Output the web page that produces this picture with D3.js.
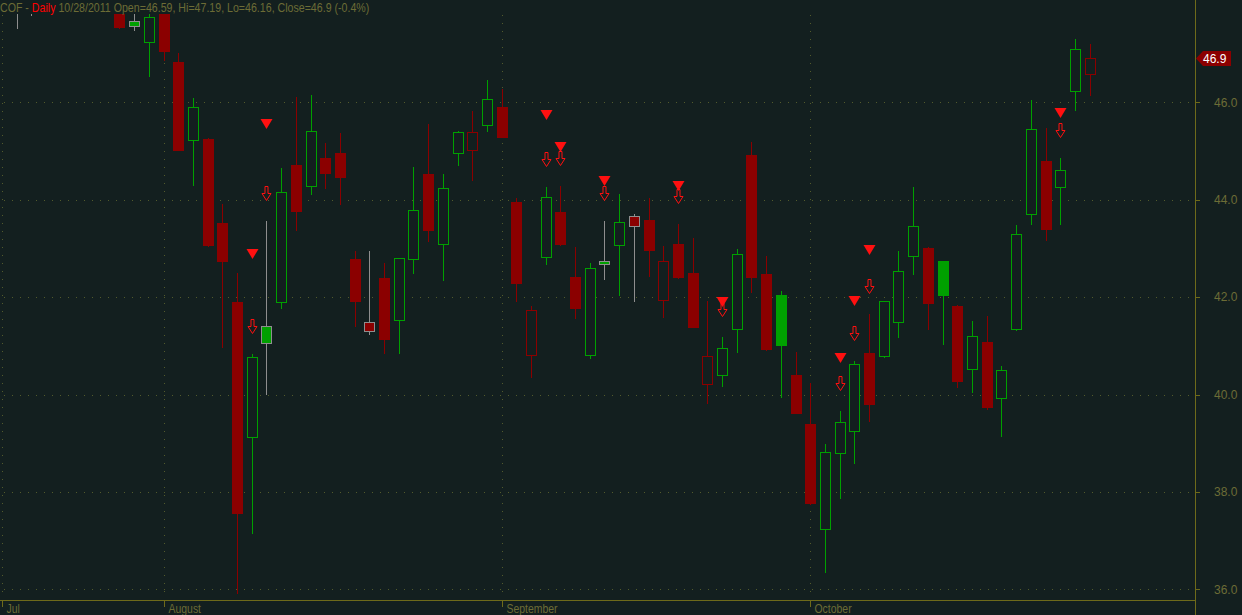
<!DOCTYPE html>
<html><head><meta charset="utf-8">
<script src="https://cdn.jsdelivr.net/npm/d3@7"></script>
<style>html,body{margin:0;padding:0;background:#131f1f;overflow:hidden}</style>
</head><body><svg id="chart" width="1242" height="615"></svg>
<script>
const symbol = "COF";
const period = "Daily";
const dates = [
"2011-07-15","2011-07-18","2011-07-19","2011-07-20","2011-07-21","2011-07-22","2011-07-25","2011-07-26","2011-07-27","2011-07-28","2011-07-29",
"2011-08-01","2011-08-02","2011-08-03","2011-08-04","2011-08-05","2011-08-08","2011-08-09","2011-08-10","2011-08-11","2011-08-12",
"2011-08-15","2011-08-16","2011-08-17","2011-08-18","2011-08-19","2011-08-22","2011-08-23","2011-08-24","2011-08-25","2011-08-26",
"2011-08-29","2011-08-30","2011-08-31","2011-09-01","2011-09-02","2011-09-06","2011-09-07","2011-09-08","2011-09-09",
"2011-09-12","2011-09-13","2011-09-14","2011-09-15","2011-09-16","2011-09-19","2011-09-20","2011-09-21","2011-09-22","2011-09-23",
"2011-09-26","2011-09-27","2011-09-28","2011-09-29","2011-09-30","2011-10-03","2011-10-04","2011-10-05","2011-10-06","2011-10-07",
"2011-10-10","2011-10-11","2011-10-12","2011-10-13","2011-10-14","2011-10-17","2011-10-18","2011-10-19","2011-10-20","2011-10-21",
"2011-10-24","2011-10-25","2011-10-26","2011-10-27","2011-10-28"];
const open = [
48.90,48.70,48.80,49.00,49.40,49.80,48.90,48.60,48.15,47.66,47.23,
48.10,46.83,45.22,45.25,43.52,41.90,39.12,41.40,41.89,44.71,
44.29,44.86,44.96,42.78,41.48,42.40,41.52,42.78,44.53,43.10,
44.95,45.03,45.53,45.90,43.95,40.82,42.83,43.75,42.41,
40.82,42.74,43.06,43.66,43.58,41.95,43.09,42.49,40.21,40.41,
41.35,44.92,42.47,42.04,40.40,39.39,37.23,38.79,39.26,40.85,
40.80,41.48,42.84,43.01,42.74,41.82,40.53,41.08,39.93,41.34,
43.70,44.79,44.27,46.24,46.59];
const high = [
49.40,49.20,49.50,49.60,50.40,50.10,49.30,48.90,48.40,48.10,47.95,
48.30,47.01,46.08,45.26,43.91,42.49,40.83,43.56,44.65,46.11,
46.15,45.16,45.37,42.95,42.95,42.70,42.80,44.67,45.55,44.53,
45.41,45.82,46.46,46.27,44.04,41.82,44.26,44.28,43.03,
42.70,43.56,44.12,43.71,44.03,43.05,43.50,43.21,41.92,41.18,
42.99,45.18,42.84,42.13,40.87,40.23,38.98,39.66,40.69,41.65,
41.92,42.95,44.26,43.02,42.75,41.84,41.51,41.61,40.59,43.48,
46.05,45.48,44.86,47.30,47.19];
const low = [
48.30,47.52,47.80,48.60,49.10,48.90,48.40,48.00,47.52,47.49,46.55,
46.87,45.02,44.31,43.05,40.98,35.92,37.16,40.02,41.78,43.38,
44.12,44.23,43.92,41.41,41.25,40.85,40.86,42.50,43.16,42.36,
44.72,44.41,45.42,45.28,41.93,40.35,42.67,43.06,41.58,
40.74,42.37,42.05,41.91,42.44,41.60,42.40,41.38,39.83,40.18,
40.88,42.10,40.92,39.95,39.61,37.76,36.36,37.88,38.60,39.46,
40.78,41.19,42.48,41.35,41.04,40.16,40.06,39.70,39.15,41.33,
43.51,43.18,43.51,45.85,46.16];
const close = [
49.20,48.65,48.90,49.30,50.20,49.20,48.60,48.20,47.55,47.57,47.75,
47.06,45.03,45.90,43.06,42.75,37.57,40.78,41.05,44.15,43.77,
45.41,44.55,44.47,41.93,41.30,41.13,42.80,43.78,43.38,44.23,
45.40,45.38,46.06,45.29,42.28,41.74,44.05,43.10,41.78,
42.59,42.67,43.54,43.47,42.97,42.74,42.42,41.39,40.80,40.95,
42.88,42.42,40.93,41.02,39.62,37.77,38.81,39.43,40.62,39.81,
41.91,42.53,43.45,41.87,42.04,40.28,41.20,39.75,40.50,43.30,
45.45,43.40,44.61,47.09,46.90];
const signalDates = ["2011-08-09","2011-08-10","2011-09-07","2011-09-08","2011-09-13","2011-09-20","2011-09-23","2011-10-05","2011-10-06","2011-10-07","2011-10-26"];
const signalLevels = [42.80,45.47,45.65,45.01,44.30,44.19,41.82,40.67,41.84,42.89,45.69];
const yTicks = [36,38,40,42,44,46];
const monthLabels = ["Jul","August","September","October"];

const W = 1242, H = 615;
const plot = {left:0, right:1195, top:14, bottom:600};
const C = {bg:"#131f1f", red:"#8b0000", green:"#00a000", grey:"#8e8e8e", sig:"#ff1010",
           text:"#6c6c36", axis:"#6e6a1a", grid:"#525a2c"};
const FONT = "Liberation Sans, Arial, sans-serif";
const condense = 0.87;

const svg = d3.select("#chart");
svg.append("rect").attr("width",W).attr("height",H).attr("fill",C.bg);

const x = d3.scalePoint().domain(dates).range([1.8, 1089.6]);
const y = d3.scaleLinear().domain([36,46]).range([589.3,102.3]);
const px = v => Math.round(x(v)) + 0.5;
const py = v => Math.round(y(v)) + 0.5;

svg.append("defs").append("clipPath").attr("id","clip")
  .append("rect").attr("x",plot.left).attr("y",plot.top)
  .attr("width",plot.right-plot.left).attr("height",plot.bottom-plot.top);

// grid
const grid = svg.append("g").attr("stroke",C.grid).attr("stroke-width",1).attr("stroke-dasharray","1 7");
grid.selectAll("line.h").data(yTicks).join("line").attr("class","h")
  .attr("x1",4).attr("x2",plot.right-3).attr("y1",d=>py(d)).attr("y2",d=>py(d));

const monthStarts = [];
dates.forEach((d,i)=>{ if(i===0 || d.slice(5,7)!==dates[i-1].slice(5,7)) monthStarts.push(d); });
grid.selectAll("line.v").data(monthStarts).join("line").attr("class","v")
  .attr("x1",d=>px(d)).attr("x2",d=>px(d)).attr("y1",plot.top+1).attr("y2",plot.bottom-2);

// candles
const data = dates.map((d,i)=>({d, o:open[i], h:high[i], l:low[i], c:close[i], pc: i>0?close[i-1]:open[i]}));
const g = svg.append("g").attr("clip-path","url(#clip)");
data.forEach(k=>{
  const up = k.c > k.pc;
  const col = up ? C.green : C.red;
  const filled = k.c < k.o;
  const doji = Math.abs(k.c-k.o) < 0.2*(k.h-k.l);
  const outline = doji ? C.grey : col;
  const cx = px(k.d);
  g.append("line").attr("x1",cx).attr("x2",cx).attr("y1",Math.round(y(k.h))).attr("y2",Math.round(y(k.l))+1)
    .attr("stroke",outline).attr("stroke-width",1).attr("shape-rendering","crispEdges");
  const t = Math.round(y(Math.max(k.o,k.c))), b = Math.round(y(Math.min(k.o,k.c)));
  g.append("rect").attr("x",cx-5).attr("y",t+0.5).attr("width",10).attr("height",Math.max(1,b-t))
    .attr("fill", filled ? col : C.bg).attr("stroke",outline).attr("stroke-width",1)
    .attr("shape-rendering","crispEdges");
});

// signals
const sg = svg.append("g").attr("clip-path","url(#clip)");
signalDates.forEach((d,i)=>{
  const cx = px(d);
  const ty = Math.round(y(signalLevels[i]));
  sg.append("path").attr("d",`M${cx-6},${ty-9}L${cx+6},${ty-9}L${cx},${ty+1}Z`).attr("fill",C.sig);
  const hi = high[dates.indexOf(d)];
  const ay = Math.round(y(hi)) - 21 + 0.5;
  sg.append("path").attr("d",`M${cx-1.5},${ay-14}L${cx+1.5},${ay-14}L${cx+1.5},${ay-7}L${cx+4.5},${ay-7}L${cx},${ay}L${cx-4.5},${ay-7}L${cx-1.5},${ay-7}Z`)
    .attr("fill","none").attr("stroke",C.sig).attr("stroke-width",1);
});

function squeeze(sel){
  sel.each(function(){ const w = this.getComputedTextLength();
    d3.select(this).attr("textLength", w*condense).attr("lengthAdjust","spacingAndGlyphs"); });
}

// y axis
svg.append("line").attr("x1",plot.right+0.5).attr("x2",plot.right+0.5).attr("y1",0).attr("y2",H).attr("stroke",C.axis);
const ya = svg.append("g");
ya.selectAll("line").data(yTicks).join("line").attr("x1",plot.right).attr("x2",plot.right+5)
  .attr("y1",d=>py(d)).attr("y2",d=>py(d)).attr("stroke",C.axis);
ya.selectAll("text").data(yTicks).join("text").attr("x",1214).attr("y",d=>y(d)).attr("dy","0.35em")
  .attr("fill",C.text).attr("font-family",FONT).attr("font-size",12)
  .text(d3.format(".1f"));

// x axis
svg.append("line").attr("x1",0).attr("x2",plot.right).attr("y1",plot.bottom+0.5).attr("y2",plot.bottom+0.5).attr("stroke",C.axis);
const xa = svg.append("g");
xa.selectAll("line").data(monthStarts).join("line").attr("x1",d=>px(d)).attr("x2",d=>px(d))
  .attr("y1",plot.bottom).attr("y2",plot.bottom+7).attr("stroke",C.axis);
xa.selectAll("text").data(monthStarts).join("text").attr("x",d=>px(d)+4).attr("y",613)
  .attr("fill",C.text).attr("font-family",FONT).attr("font-size",12)
  .text((d,i)=>monthLabels[i]).call(squeeze);

// last price marker
const last = data[data.length-1];
const ly = y(last.c);
svg.append("path").attr("d",`M${plot.right+1},${ly}L${plot.right+8},${ly-7.5}L${plot.right+36},${ly-7.5}L${plot.right+36},${ly+7.5}L${plot.right+8},${ly+7.5}Z`)
  .attr("fill",C.red);
svg.append("text").attr("x",plot.right+8).attr("y",ly).attr("dy","0.36em").attr("fill","#ffffff")
  .attr("font-family",FONT).attr("font-size",12).text(d3.format(".1f")(last.c));

// title
const prev = data[data.length-2];
const pct = (last.c-prev.c)/prev.c*100;
const [yy,mm,dd] = last.d.split("-");
const title = svg.append("text").attr("x",0).attr("y",12).attr("font-family",FONT)
  .attr("font-size",12).attr("fill",C.text).attr("transform","scale(0.885,1)");
title.append("tspan").text(symbol+" - ");
title.append("tspan").attr("fill","#ff0000").text(period);
title.append("tspan").text(` ${mm}/${dd}/${yy} Open=${last.o}, Hi=${last.h}, Lo=${last.l}, Close=${last.c} (${pct.toFixed(1)}%)`);
</script></body></html>
